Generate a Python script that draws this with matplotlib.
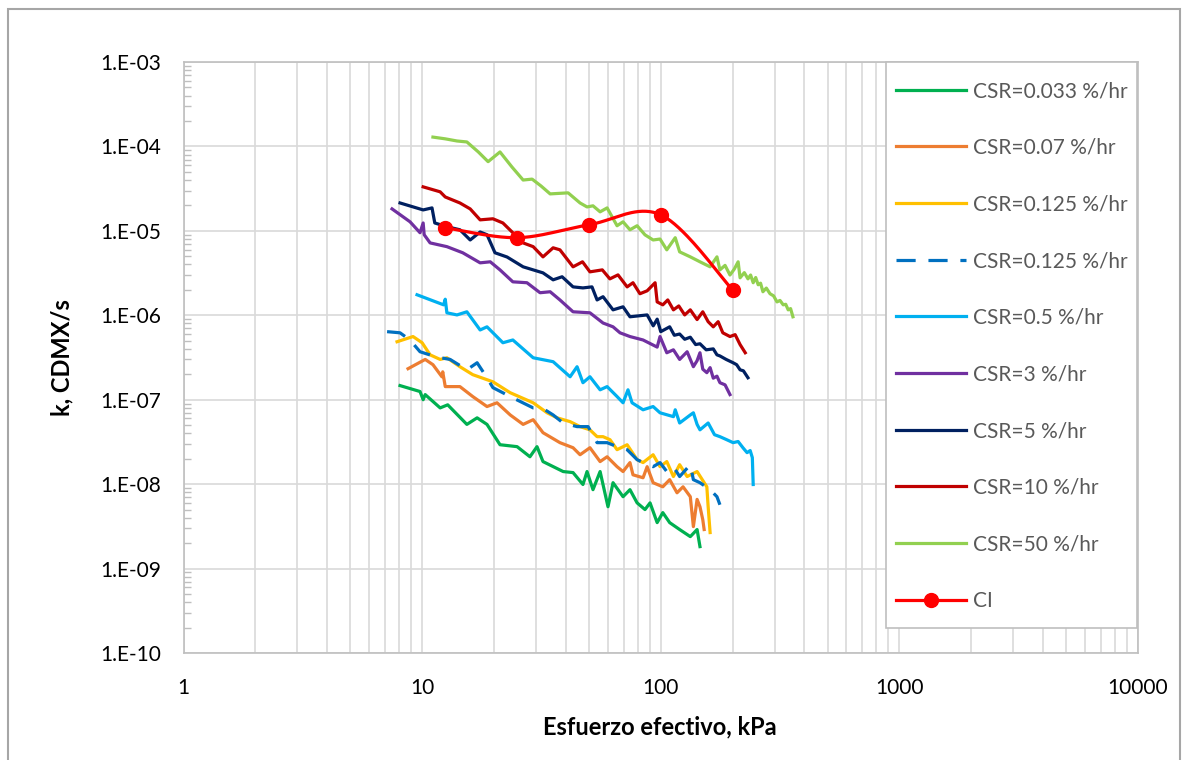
import numpy as np
import matplotlib
matplotlib.use("Agg")
import matplotlib.pyplot as plt
from matplotlib.ticker import FixedLocator, FuncFormatter, NullFormatter
from matplotlib.patches import Rectangle
from matplotlib.lines import Line2D

plt.rcParams['font.family'] = ['Lato', 'DejaVu Sans']

# ---- data (effective stress in kPa, k in CDMX/s) ----
x_0033 = [8.08, 9.80, 10.1, 10.3, 11.9, 12.8, 15.4, 17.0, 18.7, 21.2,
          25.0, 28.3, 30.3, 32.1, 39.0, 42.9, 47.2, 49.1, 52.0, 55.7,
          60.1, 63.1, 69.5, 74.3, 79.6, 85.9, 90.2, 96.6, 102, 109,
          120, 133, 142, 146]
k_0033 = [1.47e-7, 1.25e-7, 1.0e-7, 1.15e-7, 8.0e-8, 8.7e-8, 5.1e-8, 6.1e-8, 5.1e-8, 2.93e-8,
          2.78e-8, 2.11e-8, 2.78e-8, 1.85e-8, 1.41e-8, 1.37e-8, 9.9e-9, 1.41e-8, 8.6e-9, 1.41e-8,
          5.4e-9, 1.04e-8, 7.1e-9, 8.6e-9, 6.0e-9, 5.0e-9, 6.0e-9, 3.5e-9, 4.6e-9, 3.5e-9,
          2.9e-9, 2.39e-9, 2.9e-9, 1.82e-9]

x_007 = [8.73, 10.3, 11.1, 12.1, 12.2, 12.5, 14.4, 16.3, 18.7, 20.6,
         23.4, 26.5, 29.2, 32.1, 37.8, 42.9, 45.9, 50.5, 55.7, 59.6,
         65.6, 69.5, 74.3, 76.5, 84.3, 87.7, 92.9, 102, 109, 117,
         124, 133, 137, 142, 146, 150, 152]
k_007 = [2.33e-7, 3.0e-7, 2.6e-7, 1.87e-7, 2.14e-7, 1.43e-7, 1.43e-7, 1.09e-7, 8.3e-8, 9.2e-8,
         6.6e-8, 5.1e-8, 5.8e-8, 4.07e-8, 3.1e-8, 2.7e-8, 2.23e-8, 2.7e-8, 1.85e-8, 2.11e-8,
         1.61e-8, 1.41e-8, 1.80e-8, 1.29e-8, 1.19e-8, 1.61e-8, 1.04e-8, 9.3e-9, 1.13e-8, 7.9e-9,
         9.3e-9, 7.1e-9, 3.14e-9, 6.6e-9, 5.4e-9, 3.8e-9, 2.9e-9]

x_0125 = [7.85, 9.16, 10.0, 10.8, 11.9, 12.7, 14.4, 16.3, 19.8, 23.4,
          29.2, 33.4, 36.8, 41.7, 45.9, 50.5, 54.1, 57.3, 61.3, 65.6,
          72.3, 79.6, 84.3, 92.9, 99.3, 106, 113, 120, 129, 142,
          156, 158, 161]
k_0125 = [4.86e-7, 5.6e-7, 4.73e-7, 3.4e-7, 3.0e-7, 3.14e-7, 2.46e-7, 1.98e-7, 1.63e-7, 1.21e-7,
          9.2e-8, 7.0e-8, 6.1e-8, 5.5e-8, 4.8e-8, 4.4e-8, 3.65e-8, 3.65e-8, 3.36e-8, 2.56e-8,
          2.93e-8, 1.95e-8, 1.80e-8, 2.23e-8, 1.61e-8, 1.85e-8, 1.23e-8, 1.70e-8, 1.23e-8, 1.41e-8,
          9.3e-9, 5.4e-9, 2.67e-9]

x_0125b = [7.13, 8.08, 8.89, 9.80, 11.5, 13.1, 15.4, 17.0, 18.7, 19.8,
           23.4, 29.2, 31.8, 35.4, 39.0, 44.6, 49.6, 54.1, 59.6, 65.6,
           72.3, 79.6, 84.3, 92.9, 99.3, 106, 113, 120, 133, 137,
           146, 161, 172, 177]
k_0125b = [6.4e-7, 6.2e-7, 5.1e-7, 3.7e-7, 3.2e-7, 3.0e-7, 2.26e-7, 2.74e-7, 1.82e-7, 1.39e-7,
           1.09e-7, 8.0e-8, 8.0e-8, 6.6e-8, 5.3e-8, 4.8e-8, 4.8e-8, 3.1e-8, 3.1e-8, 2.78e-8,
           2.56e-8, 1.95e-8, 1.80e-8, 1.61e-8, 1.80e-8, 1.41e-8, 1.61e-8, 1.23e-8, 1.70e-8, 1.13e-8,
           1.04e-8, 8.6e-9, 7.1e-9, 5.7e-9]

x_05 = [9.52, 12.3, 12.5, 12.7, 14.0, 15.4, 17.5, 18.7, 21.8, 24.0,
        29.2, 35.4, 41.7, 44.6, 47.2, 50.5, 55.7, 59.6, 65.6, 69.5,
        72.9, 75.8, 84.3, 92.9, 99.3, 113, 115, 120, 133, 137,
        142, 146, 158, 168, 177, 189, 201, 211, 221, 230,
        237, 242, 244]
k_05 = [1.75e-6, 1.33e-6, 1.55e-6, 1.07e-6, 1.01e-6, 1.10e-6, 6.7e-7, 7.3e-7, 4.73e-7, 5.1e-7,
        3.14e-7, 2.82e-7, 1.87e-7, 2.46e-7, 1.59e-7, 1.87e-7, 1.31e-7, 1.43e-7, 1.09e-7, 9.2e-8,
        1.31e-7, 9.2e-8, 7.6e-8, 8.3e-8, 7.0e-8, 6.3e-8, 7.6e-8, 5.3e-8, 6.6e-8, 7.0e-8,
        5.1e-8, 4.4e-8, 5.3e-8, 3.85e-8, 3.65e-8, 3.36e-8, 3.1e-8, 3.2e-8, 2.7e-8, 2.36e-8,
        2.5e-8, 2.06e-8, 9.9e-9]

x_3 = [7.48, 8.9, 9.8, 10.1, 10.2, 10.8, 12.7, 14.8, 17.5, 19.3,
       21.2, 24.0, 27.5, 31.2, 34.4, 37.8, 42.9, 50.5, 57.3, 63.1,
       67.5, 74.3, 84.3, 96.6, 99.3, 106, 113, 120, 129, 137,
       142, 146, 150, 156, 161, 166, 172, 177, 186, 195]
k_3 = [1.82e-5, 1.28e-5, 9.5e-6, 1.24e-5, 9.0e-6, 7.2e-6, 6.5e-6, 5.5e-6, 4.18e-6, 4.30e-6,
       3.45e-6, 2.49e-6, 2.43e-6, 1.85e-6, 1.90e-6, 1.52e-6, 1.10e-6, 1.07e-6, 8.1e-7, 7.3e-7,
       6.2e-7, 5.6e-7, 5.1e-7, 4.2e-7, 5.6e-7, 3.6e-7, 3.9e-7, 3.0e-7, 3.7e-7, 2.46e-7,
       2.9e-7, 3.6e-7, 2.3e-7, 2.09e-7, 2.4e-7, 1.8e-7, 1.9e-7, 1.59e-7, 1.5e-7, 1.15e-7]

x_5 = [8.08, 10.1, 11.0, 11.3, 12.7, 14.4, 15.9, 17.5, 18.7, 20.2,
       22.7, 26.5, 29.2, 32.1, 35.4, 38.6, 42.9, 47.2, 51.5, 54.1,
       57.3, 63.1, 69.5, 74.3, 87.7, 93.0, 96.6, 100, 109, 114,
       120, 126, 133, 140, 146, 155, 166, 172, 177, 188,
       201, 208, 215, 222, 232]
k_5 = [2.14e-5, 1.77e-5, 1.87e-5, 1.24e-5, 1.12e-5, 1.03e-5, 7.8e-6, 9.7e-6, 9.0e-6, 5.5e-6,
       4.9e-6, 3.75e-6, 3.45e-6, 3.18e-6, 2.63e-6, 2.86e-6, 2.17e-6, 2.11e-6, 2.17e-6, 1.52e-6,
       1.66e-6, 1.16e-6, 1.26e-6, 9.6e-7, 1.01e-6, 7.5e-7, 9.0e-7, 6.4e-7, 7.3e-7, 5.8e-7,
       6.0e-7, 5.2e-7, 5.5e-7, 4.5e-7, 4.6e-7, 3.9e-7, 4.0e-7, 3.4e-7, 3.3e-7, 3.0e-7,
       2.74e-7, 2.6e-7, 2.26e-7, 2.2e-7, 1.82e-7]

x_10 = [10.1, 11.9, 12.5, 14.4, 15.9, 17.5, 19.8, 21.8, 24.0, 26.5,
        29.2, 32.1, 35.4, 37.8, 42.9, 47.0, 50.5, 56.9, 61.2, 66.2,
        72.3, 76.5, 81.8, 87.7, 94.7, 96.6, 102, 107, 113, 119,
        126, 133, 142, 150, 158, 166, 174, 182, 195, 205,
        215, 226]
k_10 = [3.32e-5, 2.90e-5, 2.52e-5, 2.14e-5, 1.82e-5, 1.35e-5, 1.39e-5, 1.24e-5, 9.5e-6, 7.2e-6,
        6.5e-6, 4.92e-6, 6.3e-6, 5.96e-6, 3.75e-6, 4.30e-6, 3.27e-6, 3.45e-6, 2.70e-6, 3.01e-6,
        2.17e-6, 2.43e-6, 1.80e-6, 1.95e-6, 2.43e-6, 1.44e-6, 1.33e-6, 1.52e-6, 1.16e-6, 1.29e-6,
        1.01e-6, 1.16e-6, 8.9e-7, 1.10e-6, 8.4e-7, 7.3e-7, 8.4e-7, 6.2e-7, 5.6e-7, 5.9e-7,
        4.5e-7, 3.6e-7]

x_50 = [11.1, 12.5, 14.0, 15.4, 17.2, 18.9, 21.2, 23.8, 26.5, 28.9,
        31.5, 34.4, 40.9, 45.9, 49.1, 52.0, 55.7, 59.6, 65.6, 69.5,
        74.3, 79.6, 85.9, 92.9, 99.3, 106, 115, 120, 133, 146,
        161, 172, 177, 186, 195, 203, 211, 215, 224, 232,
        238, 244, 250, 256, 262, 268, 277, 287, 297, 307,
        316, 326, 334, 342, 350, 358]
k_50 = [1.29e-4, 1.23e-4, 1.16e-4, 1.13e-4, 8.6e-5, 6.6e-5, 8.6e-5, 5.7e-5, 4.0e-5, 4.1e-5,
        3.4e-5, 2.74e-5, 2.82e-5, 2.14e-5, 1.92e-5, 1.98e-5, 1.68e-5, 1.87e-5, 1.15e-5, 1.28e-5,
        1.03e-5, 1.15e-5, 8.97e-6, 7.8e-6, 8.0e-6, 5.96e-6, 8.3e-6, 5.64e-6, 4.92e-6, 4.30e-6,
        3.75e-6, 4.92e-6, 3.45e-6, 3.9e-6, 3.0e-6, 3.5e-6, 4.3e-6, 2.78e-6, 3.2e-6, 2.70e-6,
        3.0e-6, 2.43e-6, 2.8e-6, 2.3e-6, 2.4e-6, 1.90e-6, 2.1e-6, 1.80e-6, 1.7e-6, 1.44e-6,
        1.5e-6, 1.33e-6, 1.35e-6, 1.16e-6, 1.2e-6, 9.6e-7]

x_ci = [12.5, 25, 50, 100, 200]
k_ci = [1.09e-5, 8.3e-6, 1.18e-5, 1.55e-5, 2.0e-6]

labels = ['CSR=0.033 %/hr', 'CSR=0.07 %/hr', 'CSR=0.125 %/hr', 'CSR=0.125 %/hr',
          'CSR=0.5 %/hr', 'CSR=3 %/hr', 'CSR=5 %/hr', 'CSR=10 %/hr',
          'CSR=50 %/hr', 'CI']
colors = ['#00B050', '#ED7D31', '#FFC000', '#0070C0', '#00B0F0',
          '#7030A0', '#002060', '#C00000', '#92D050', '#FF0000']


def smooth_curve(xs, ys, n=40):
    # excel-like smoothed line: catmull-rom bezier in log-log space
    P = np.column_stack([np.log10(xs), np.log10(ys)])
    ext = np.vstack([P[0], P, P[-1]])
    t = np.linspace(0, 1, n)[:, None]
    segs = []
    for i in range(len(P) - 1):
        p0, p1, p2, p3 = ext[i], ext[i + 1], ext[i + 2], ext[i + 3]
        c1 = p1 + (p2 - p0) / 6
        c2 = p2 - (p3 - p1) / 6
        seg = (1 - t) ** 3 * p1 + 3 * (1 - t) ** 2 * t * c1 + 3 * (1 - t) * t ** 2 * c2 + t ** 3 * p2
        segs.append(seg)
    out = np.vstack(segs)
    return 10 ** out[:, 0], 10 ** out[:, 1]


W, H = 1187, 760
fig = plt.figure(figsize=(W / 100, H / 100), dpi=100)
ax = fig.add_axes([183.5 / W, 1 - 653 / H, (1138 - 183.5) / W, (653 - 62) / H])
ax.set_xscale('log')
ax.set_yscale('log')
ax.set_xlim(1, 10000)
ax.set_ylim(1e-10, 1e-3)

lw = 2.3
series = [(x_0033, k_0033), (x_007, k_007), (x_0125, k_0125), (x_0125b, k_0125b),
          (x_05, k_05), (x_3, k_3), (x_5, k_5), (x_10, k_10), (x_50, k_50)]
handles = []
for i, (xs, ks) in enumerate(series):
    ls = (0, (6, 4)) if i == 3 else '-'
    ax.plot(xs, ks, color=colors[i], lw=lw, linestyle=ls,
            solid_joinstyle='round', zorder=3 + i * 0.1)
    handles.append(Line2D([], [], color=colors[i], lw=lw, linestyle=ls))

sx, sy = smooth_curve(x_ci, k_ci)
ax.plot(sx, sy, color=colors[9], lw=lw, zorder=5)
ax.plot(x_ci, k_ci, 'o', color=colors[9], markersize=10, zorder=5)
handles.append(Line2D([], [], color=colors[9], lw=lw, marker='o', markersize=10))

# grid and ticks
ax.xaxis.set_major_locator(FixedLocator([1, 10, 100, 1000, 10000]))
ax.xaxis.set_minor_locator(FixedLocator([m * 10 ** e for e in range(0, 4) for m in range(2, 10)]))
ax.xaxis.set_major_formatter(FuncFormatter(lambda v, p: f"{v:g}"))
ax.xaxis.set_minor_formatter(NullFormatter())
ax.yaxis.set_major_locator(FixedLocator([10.0 ** e for e in range(-10, -2)]))
ax.yaxis.set_minor_locator(FixedLocator([m * 10.0 ** e for e in range(-10, -3) for m in range(2, 10)]))
ax.yaxis.set_major_formatter(FuncFormatter(lambda v, p: f"1.E-{int(round(-np.log10(v))):02d}"))
ax.yaxis.set_minor_formatter(NullFormatter())

ax.grid(which='major', color='#D9D9D9', lw=1.2, zorder=0)
ax.grid(which='minor', axis='x', color='#D9D9D9', lw=1.2, zorder=0)
ax.set_axisbelow(True)
ax.tick_params(which='major', length=0, labelsize=15, colors='black')
ax.tick_params(axis='x', which='major', pad=18)
ax.tick_params(axis='y', which='major', pad=16)
ax.tick_params(axis='x', which='minor', length=0)
ax.tick_params(axis='y', which='minor', direction='in', length=5, color='#BFBFBF', width=1)
for s in ax.spines.values():
    s.set_color('#BFBFBF')
    s.set_linewidth(1.2)

ax.set_xlabel('Esfuerzo efectivo, kPa', fontsize=17, fontweight='bold')
ax.set_ylabel('k, CDMX/s', fontsize=17, fontweight='bold')
ax.xaxis.set_label_coords(0.499, -0.125)
ax.xaxis.label.set_va('center')
ax.yaxis.set_label_coords(-0.127, 0.5)
ax.yaxis.label.set_va('center')

# legend box drawn separately so its padding matches the original
fig.add_artist(Rectangle((886 / W, 1 - 628 / H), 251 / W, 566 / H, transform=fig.transFigure,
                         facecolor='white', edgecolor='#BFBFBF', lw=1.2, zorder=9))
leg = fig.legend(handles, labels, loc='upper left', bbox_to_anchor=(896 / W, 1 - 81 / H),
                 fontsize=15, labelcolor='#595959', frameon=False, borderaxespad=0,
                 borderpad=0, handlelength=3.35, handletextpad=0.35, labelspacing=1.76)
leg.set_zorder(10)

# outer chart border
fig.add_artist(Rectangle((8 / W, -0.05), (1180 - 8) / W, 1 - 9 / H + 0.05,
                         transform=fig.transFigure, fill=False, edgecolor='#A6A6A6', lw=1.5))

fig.savefig('out.png', dpi=100)
